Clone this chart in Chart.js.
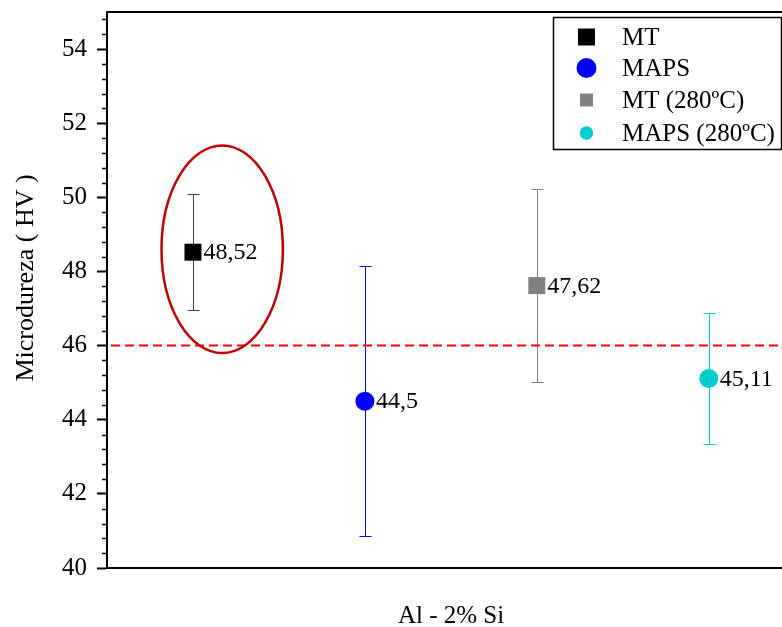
<!DOCTYPE html>
<html>
<head>
<meta charset="utf-8">
<script src="https://cdn.jsdelivr.net/npm/chart.js@4.4.1/dist/chart.umd.min.js"></script>
<style>
  html, body { margin: 0; padding: 0; background: #fff; }
  canvas { display: block; }
</style>
</head>
<body>
<canvas id="chart" width="782" height="627"></canvas>
<script>
const seriesNames = ['MT', 'MAPS', 'MT (280ºC)', 'MAPS (280ºC)'];
const hardness = [48.52, 44.5, 47.62, 45.11];
const hardnessErr = [1.56, 3.65, 2.6, 1.77];
const seriesColors = ['#000000', '#0000FF', '#808080', '#00CCCC'];
const errColors = ['#404040', '#0000FF', '#808080', '#00CCCC'];
const pointShapes = ['rect', 'circle', 'rect', 'circle'];
const yTicks = [40, 42, 44, 46, 48, 50, 52, 54];
const refLine = 46;
const xAxisLabel = 'Al - 2% Si';
const yAxisLabel = 'Microdureza ( HV )';
// red ellipse around MT, in data units
const highlight = { x: 0.67, y: 48.6, rx: 0.353, ry: 2.8 };

const FONT = "'Liberation Serif', 'Times New Roman', serif";
const xMax = 3.926;

const datasets = seriesNames.map((name, i) => ({
  label: name,
  data: [{ x: i + 0.5, y: hardness[i] }],
  pointStyle: pointShapes[i],
  pointRadius: pointShapes[i] === 'rect' ? 12 : 9.5,
  pointHoverRadius: pointShapes[i] === 'rect' ? 12 : 9.5,
  backgroundColor: seriesColors[i],
  borderColor: seriesColors[i],
  borderWidth: 0,
  showLine: false
}));
datasets.push({
  type: 'line',
  label: 'ref',
  data: [{ x: 0, y: refLine }, { x: xMax, y: refLine }],
  borderColor: '#FF0000',
  borderWidth: 2,
  borderDash: [9, 5],
  borderDashOffset: -4,
  pointRadius: 0,
  fill: false
});

const extras = {
  id: 'extras',
  beforeDatasetsDraw(chart) {
    const ctx = chart.ctx;
    const ys = chart.scales.y;
    ctx.save();
    ctx.lineWidth = 1;
    seriesNames.forEach((n, i) => {
      const pt = chart.getDatasetMeta(i).data[0];
      const x = Math.round(pt.x) + 0.5;
      const top = Math.round(ys.getPixelForValue(hardness[i] + hardnessErr[i])) + 0.5;
      const bot = Math.round(ys.getPixelForValue(hardness[i] - hardnessErr[i])) + 0.5;
      ctx.strokeStyle = errColors[i];
      ctx.beginPath();
      ctx.moveTo(x, top); ctx.lineTo(x, bot);
      ctx.moveTo(x - 6, top); ctx.lineTo(x + 6, top);
      ctx.moveTo(x - 6, bot); ctx.lineTo(x + 6, bot);
      ctx.stroke();
    });
    ctx.restore();
  },
  afterDatasetsDraw(chart) {
    const ctx = chart.ctx;
    const xs = chart.scales.x, ys = chart.scales.y;
    ctx.save();
    // value labels
    ctx.font = '24px ' + FONT;
    ctx.fillStyle = '#000';
    ctx.textBaseline = 'middle';
    ctx.textAlign = 'left';
    seriesNames.forEach((n, i) => {
      const pt = chart.getDatasetMeta(i).data[0];
      const off = pointShapes[i] === 'rect' ? 10.5 : 11;
      ctx.fillText(String(hardness[i]).replace('.', ','), pt.x + off, pt.y + 1);
    });
    // highlight ellipse
    const cx = xs.getPixelForValue(highlight.x);
    const cy = ys.getPixelForValue(highlight.y);
    const rx = xs.getPixelForValue(highlight.x + highlight.rx) - cx;
    const ry = cy - ys.getPixelForValue(highlight.y + highlight.ry);
    ctx.strokeStyle = '#C00000';
    ctx.lineWidth = 2.5;
    ctx.beginPath();
    ctx.ellipse(cx, cy, rx, ry, 0, 0, Math.PI * 2);
    ctx.stroke();
    ctx.restore();
  },
  afterDraw(chart) {
    const ctx = chart.ctx;
    const a = chart.chartArea;
    const ys = chart.scales.y;
    ctx.save();
    // top frame line
    ctx.strokeStyle = '#000';
    ctx.lineWidth = 2;
    ctx.beginPath();
    ctx.moveTo(a.left - 1, a.top); ctx.lineTo(a.right, a.top);
    ctx.stroke();
    // minor ticks
    ctx.lineWidth = 1.5;
    ctx.beginPath();
    for (let k = 1; 40 + k * 0.4 < ys.max; k++) {
      if (k % 5 === 0) continue;
      const y = Math.round(ys.getPixelForValue(40 + k * 0.4)) + 0.5;
      ctx.moveTo(a.left - 5, y); ctx.lineTo(a.left, y);
    }
    ctx.stroke();
    // axis titles
    ctx.fillStyle = '#000';
    ctx.font = '25px ' + FONT;
    ctx.textAlign = 'center';
    ctx.textBaseline = 'alphabetic';
    ctx.fillText(xAxisLabel, 451, 623);
    ctx.save();
    ctx.translate(33, 278);
    ctx.rotate(-Math.PI / 2);
    ctx.font = '26px ' + FONT;
    ctx.fillText(yAxisLabel, 0, 0);
    ctx.restore();
    // legend
    ctx.lineWidth = 1.5;
    ctx.strokeStyle = '#000';
    ctx.strokeRect(553.5, 17.5, 228, 132);
    const rowY = [37, 68, 100, 133];
    const legSize = [8.5, 10, 6.5, 6.7];
    ctx.font = '25px ' + FONT;
    ctx.textAlign = 'left';
    ctx.textBaseline = 'middle';
    seriesNames.forEach((n, i) => {
      ctx.fillStyle = seriesColors[i];
      const s = legSize[i];
      if (pointShapes[i] === 'rect') {
        ctx.fillRect(586.5 - s, rowY[i] - s, 2 * s, 2 * s);
      } else {
        ctx.beginPath();
        ctx.arc(586.5, rowY[i], s, 0, Math.PI * 2);
        ctx.fill();
      }
      ctx.fillStyle = '#000';
      ctx.fillText(n, 622, rowY[i] + 1);
    });
    ctx.restore();
  }
};

new Chart(document.getElementById('chart'), {
  type: 'scatter',
  data: { datasets },
  options: {
    responsive: false,
    devicePixelRatio: 1,
    animation: false,
    events: [],
    layout: { autoPadding: false, padding: { top: 12, right: 0, left: 0, bottom: 0 } },
    plugins: { legend: { display: false }, tooltip: { enabled: false } },
    scales: {
      x: {
        type: 'linear',
        min: 0,
        max: xMax,
        ticks: { display: false },
        grid: { display: false },
        border: { display: true, color: '#000', width: 2 },
        afterFit: s => { s.height = 59; s.paddingLeft = 0; s.paddingRight = 0; }
      },
      y: {
        type: 'linear',
        min: 40,
        max: 55,
        afterBuildTicks: s => { s.ticks = yTicks.map(v => ({ value: v })); },
        ticks: {
          color: '#000',
          padding: 10,
          font: { family: FONT, size: 25, lineHeight: 1 }
        },
        grid: {
          drawOnChartArea: false,
          drawTicks: true,
          tickLength: 10,
          tickWidth: 2,
          color: '#000'
        },
        border: { display: true, color: '#000', width: 2 },
        afterFit: s => { s.width = 107; s.paddingTop = 0; s.paddingBottom = 0; }
      }
    }
  },
  plugins: [extras]
});
</script>
</body>
</html>
